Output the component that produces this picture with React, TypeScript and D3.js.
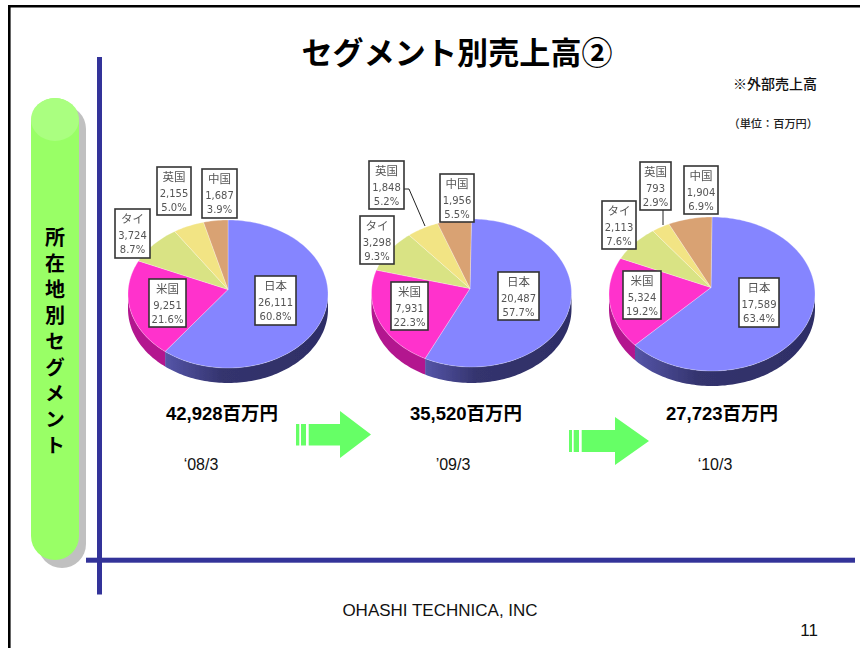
import React from "react";
import * as d3 from "d3";

const regions = ["日本", "米国", "タイ", "英国", "中国"];
const topColors = ["#8585ff", "#ff33cc", "#d9e384", "#f2e484", "#d9a273"];
const sideColors = ["url(#sideBlue)", "#b3198f", "#a0a860", "#b0a860", "#a07850"];

const values08 = [26111, 9251, 3724, 2155, 1687];
const values09 = [20487, 7931, 3298, 1848, 1956];
const values10 = [17589, 5324, 2113, 793, 1904];
const shares08 = ["60.8%", "21.6%", "8.7%", "5.0%", "3.9%"];
const shares09 = ["57.7%", "22.3%", "9.3%", "5.2%", "5.5%"];
const shares10 = ["63.4%", "19.2%", "7.6%", "2.9%", "6.9%"];
const totals = ["42,928百万円", "35,520百万円", "27,723百万円"];
const periods = ["‘08/3", "’09/3", "‘10/3"];
const sideLabel = "所在地別セグメント";

type Box = [number, number, number, number];
const layouts = [
  {
    values: values08, shares: shares08, cx: 228, cy: 294, ax: 228, ay: 289.5, rx: 100, ry: 74, depth: 15,
    boxes: [[255, 276, 41, 49], [149, 279, 37, 48], [115, 209, 35, 49], [157, 167, 34, 48], [202, 169, 35, 49]] as Box[],
    leader: null as null | [number, number][],
    totalX: 222, periodX: 201,
  },
  {
    values: values09, shares: shares09, cx: 471.5, cy: 293, ax: 470, ay: 288.5, rx: 100, ry: 74, depth: 16,
    boxes: [[498, 272, 41, 48], [391, 282, 37, 48], [360, 216, 34, 48], [369, 161, 35, 48], [440, 174, 34, 48]] as Box[],
    leader: [[404, 189], [409, 189], [425, 226]] as [number, number][],
    totalX: 466, periodX: 453,
  },
  {
    values: values10, shares: shares10, cx: 712, cy: 294, ax: 711, ay: 287.5, rx: 103, ry: 77, depth: 15,
    boxes: [[739, 278, 40, 49], [623, 271, 38, 48], [602, 201, 34, 48], [640, 162, 31, 48], [684, 166, 34, 48]] as Box[],
    leader: [[663, 210], [663, 225]] as [number, number][],
    totalX: 722, periodX: 715,
  },
];

const arrows = [
  { bars: [[296, 3.3], [301, 5]], bodyX: 308.7, neckX: 340, tipX: 371, bodyY0: 424, bodyY1: 445.5, headY0: 411, headY1: 458 },
  { bars: [[569, 3], [573.7, 5.3]], bodyX: 581.7, neckX: 615, tipX: 649, bodyY0: 430, bodyY1: 452, headY0: 417, headY1: 465 },
];

const SANS = "'Liberation Sans', 'Noto Sans CJK JP', sans-serif";
const CJK = "'Noto Sans CJK JP', 'Liberation Sans', sans-serif";

function Pie3D({ layout }: { layout: (typeof layouts)[number] }) {
  const { values, shares, cx, cy, ax, ay, rx, ry, depth, boxes, leader } = layout;
  const arcs = d3.pie<number>().sort(null)(values);
  const px = (a: number) => cx + rx * Math.sin(a);
  const py = (a: number) => cy - ry * Math.cos(a);
  const line = d3.line<[number, number]>();
  const samples = (a0: number, a1: number) => {
    const n = Math.max(2, Math.ceil((a1 - a0) * 40));
    return d3.range(n + 1).map((i) => a0 + ((a1 - a0) * i) / n);
  };
  const topPath = (a0: number, a1: number) =>
    line([[ax, ay], ...samples(a0, a1).map((a) => [px(a), py(a)] as [number, number])]) + "Z";
  const sidePath = (a0: number, a1: number) => {
    const s = Math.max(a0, Math.PI / 2);
    const e = Math.min(a1, (3 * Math.PI) / 2);
    if (e <= s) return null;
    const pts = samples(s, e);
    const outer = pts.map((a) => [px(a), py(a)] as [number, number]);
    const lower = pts.slice().reverse().map((a) => [px(a), py(a) + depth] as [number, number]);
    return line([...outer, ...lower]) + "Z";
  };
  return (
    <g filter="url(#soft)">
      {arcs.map((d, i) => {
        const p = sidePath(d.startAngle, d.endAngle);
        return p ? <path key={i} d={p} fill={sideColors[i]} /> : null;
      })}
      {arcs.map((d, i) => (
        <path key={i} d={topPath(d.startAngle, d.endAngle)} fill={topColors[i]} stroke="#fff" strokeOpacity={0.45} strokeWidth={0.6} />
      ))}
      {leader && <path d={line(leader) ?? ""} fill="none" stroke="#222" strokeWidth={1} />}
      {boxes.map(([x, y, w, h], i) => (
        <g key={i}>
          <rect x={x} y={y} width={w} height={h} fill="#fff" stroke="#333" strokeWidth={1.6} />
          <g textAnchor="middle" fontFamily={CJK} fontSize={11.5} fill="#555">
            <text x={x + w / 2} y={y + 14}>{regions[i]}</text>
            <text x={x + w / 2} y={y + 29.5} fontFamily="'DejaVu Sans', sans-serif" fontSize={10}>{d3.format(",")(values[i])}</text>
            <text x={x + w / 2} y={y + 44} fontFamily="'DejaVu Sans', sans-serif" fontSize={10}>{shares[i]}</text>
          </g>
        </g>
      ))}
    </g>
  );
}

export default function App() {
  return (
    <svg width={860} height={648} viewBox="0 0 860 648" style={{ position: "absolute", left: 0, top: 0, display: "block" }}>
      <defs>
        <linearGradient id="sideBlue" x1="0" x2="1" y1="0" y2="0">
          <stop offset="0" stopColor="#5555a8" />
          <stop offset="0.35" stopColor="#34346e" />
          <stop offset="1" stopColor="#2e2e66" />
        </linearGradient>
        <filter id="soft" x="-5%" y="-5%" width="110%" height="110%">
          <feGaussianBlur stdDeviation="0.4" />
        </filter>
      </defs>
      <rect width={860} height={648} fill="#fff" />
      {/* slide frame */}
      <path d="M 860 6.3 H 9.3 V 648" fill="none" stroke="#000" strokeWidth={2.6} />

      {/* side pill */}
      <rect x={38} y={105} width={48} height={463} rx={24} fill="#c0c0c0" />
      <rect x={31} y={98} width={48} height={462} rx={24} fill="#99ff66" />
      <ellipse cx={55} cy={119.5} rx={24} ry={21.5} fill="#aaff80" />
      <text
        x={55}
        y={227}
        fontFamily={CJK}
        fontWeight={700}
        fontSize={20}
        fill="#000"
        style={{ writingMode: "vertical-rl", letterSpacing: "6px" }}
      >
        {sideLabel}
      </text>

      {/* rules */}
      <rect x={97} y={57} width={5} height={537.5} fill="#333399" />
      <rect x={86} y={557.7} width={769} height={5} fill="#333399" />

      {/* heading */}
      <text x={457} y={64} textAnchor="middle" fontFamily={CJK} fontWeight={700} fontSize={31} textLength={311} fill="#000">セグメント別売上高②</text>
      <text x={817} y={89} textAnchor="end" fontFamily={CJK} fontWeight={500} fontSize={14} fill="#111">※外部売上高</text>
      <text x={818} y={128} textAnchor="end" fontFamily={CJK} fontWeight={500} fontSize={11.2} fill="#222">（単位：百万円）</text>

      {layouts.map((l, i) => (
        <g key={i}>
          <Pie3D layout={l} />
          <text x={l.totalX} y={420} textAnchor="middle" fontFamily={SANS} fontWeight={700} fontSize={18.5} fill="#000">{totals[i]}</text>
          <text x={l.periodX} y={470} textAnchor="middle" fontFamily={SANS} fontSize={16} fill="#111">{periods[i]}</text>
        </g>
      ))}

      {arrows.map((a, i) => (
        <g key={i} fill="#66ff66">
          {a.bars.map(([x, w], j) => (
            <rect key={j} x={x} y={a.bodyY0} width={w} height={a.bodyY1 - a.bodyY0} />
          ))}
          <path d={`M${a.bodyX},${a.bodyY0}H${a.neckX}V${a.headY0}L${a.tipX},${(a.headY0 + a.headY1) / 2}L${a.neckX},${a.headY1}V${a.bodyY1}H${a.bodyX}Z`} />
        </g>
      ))}

      <text x={440} y={616} textAnchor="middle" fontFamily={SANS} fontSize={17} fill="#111">OHASHI TECHNICA, INC</text>
      <text x={818} y={636} textAnchor="end" fontFamily={SANS} fontSize={17} fill="#111">11</text>
    </svg>
  );
}
